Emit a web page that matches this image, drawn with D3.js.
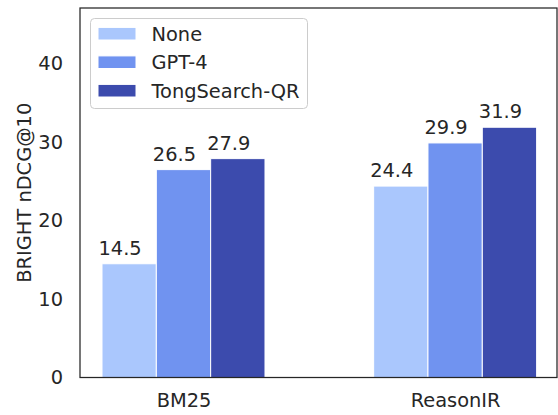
<!DOCTYPE html>
<html>
<head>
    <title>BRIGHT nDCG@10</title>
    <script src="https://d3js.org/d3.v7.min.js"></script>
    <style>
        body { margin: 0; background: #fff; }
        text { font-family: "DejaVu Sans", sans-serif; fill: #262626; }
    </style>
</head>
<body>
    <svg id="chart" width="558" height="415"></svg>

    <script>
        // data
        const categories = ['BM25', 'ReasonIR'];
        const seriesNames = ['None', 'GPT-4', 'TongSearch-QR'];
        const seriesColors = ['#aac7fd', '#7093f0', '#3c4bad'];
        const noneValues = [14.5, 24.4];
        const gpt4Values = [26.5, 29.9];
        const tongValues = [27.9, 31.9];
        const yTicks = [0, 10, 20, 30, 40];

        const series = [noneValues, gpt4Values, tongValues];

        const svg = d3.select('#chart');
        const plotLeft = 80, plotRight = 557, plotTop = 8, plotBottom = 377.5;
        const barW = 0.2;

        // categories sit at 0 and 1, like matplotlib
        const x = d3.scaleLinear().domain([-0.381, 1.375]).range([plotLeft, plotRight]);
        const y = d3.scaleLinear().domain([0, 47.1]).range([plotBottom, plotTop]);

        // bars
        series.forEach(function (vals, s) {
            const off = (s - 1) * barW;
            svg.append('g').selectAll('rect')
                .data(vals)
                .enter()
                .append('rect')
                .attr('x', (d, i) => x(i + off - barW / 2))
                .attr('y', d => y(d))
                .attr('width', x(barW) - x(0))
                .attr('height', d => y(0) - y(d))
                .attr('fill', seriesColors[s])
                .attr('stroke', '#fff')
                .attr('stroke-width', 1);

            // value labels sit a third of the way across each bar
            svg.append('g').selectAll('text')
                .data(vals)
                .enter()
                .append('text')
                .attr('x', (d, i) => x(i + off - barW / 2 + barW / 3))
                .attr('y', d => y(d) - 9)
                .attr('text-anchor', 'middle')
                .style('font-size', '19.4px')
                .text(d => d.toFixed(1));
        });

        // y axis labels (no tick marks)
        const yAxis = d3.axisLeft(y).tickValues(yTicks).tickSize(0).tickPadding(17);
        const yg = svg.append('g').attr('transform', `translate(${plotLeft},0)`).call(yAxis);
        yg.select('.domain').remove();
        yg.selectAll('text').style('font-size', '19.4px').style('font-family', '"DejaVu Sans"').attr('fill', '#262626');

        // x axis labels
        const xAxis = d3.axisBottom(x).tickValues([0, 1]).tickFormat(i => categories[i]).tickSize(0).tickPadding(16);
        const xg = svg.append('g').attr('transform', `translate(0,${plotBottom})`).call(xAxis);
        xg.select('.domain').remove();
        xg.selectAll('text').style('font-size', '19.4px').style('font-family', '"DejaVu Sans"').attr('fill', '#262626');

        // frame
        svg.append('rect')
            .attr('x', plotLeft).attr('y', plotTop)
            .attr('width', plotRight - plotLeft).attr('height', plotBottom - plotTop)
            .attr('fill', 'none')
            .attr('stroke', '#262626')
            .attr('stroke-width', 1.25);

        // y label
        svg.append('text')
            .attr('transform', `translate(31,${(plotTop + plotBottom) / 2}) rotate(-90)`)
            .attr('text-anchor', 'middle')
            .style('font-size', '19.4px')
            .text('BRIGHT nDCG@10');

        // legend
        const legend = svg.append('g');
        legend.append('rect')
            .attr('x', 90.5).attr('y', 18.5)
            .attr('width', 217).attr('height', 90)
            .attr('rx', 4)
            .attr('fill', '#fff')
            .attr('fill-opacity', 0.8)
            .attr('stroke', '#cccccc')
            .attr('stroke-width', 1);

        seriesNames.forEach(function (name, s) {
            const cy = 33.7 + s * 28.5;
            legend.append('rect')
                .attr('x', 98).attr('y', cy - 6.3)
                .attr('width', 38).attr('height', 12.6)
                .attr('fill', seriesColors[s])
                .attr('stroke', '#fff')
                .attr('stroke-width', 1);
            legend.append('text')
                .attr('x', 151.5)
                .attr('y', cy + 7)
                .style('font-size', '19.4px')
                .text(name);
        });
    </script>
</body>
</html>
